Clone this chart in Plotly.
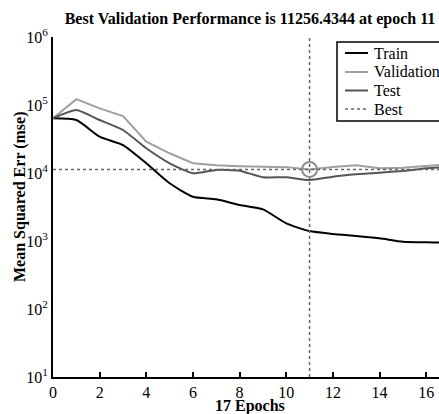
import plotly.graph_objects as go

epochs = list(range(0, 18))
train = [63700, 60100, 34200, 25700, 13900, 7060, 4470, 4100, 3390, 2920,
         1820, 1400, 1270, 1185, 1096, 977, 955, 955]
validation = [64000, 122000, 89300, 68900, 28800, 19500, 13900, 13000, 12600, 12400,
              12200, 11256.4344, 12300, 13000, 11700, 11900, 12800, 13500]
test = [64000, 84300, 60100, 42900, 23100, 13900, 9900, 11100, 10800, 8650,
        8650, 7880, 8830, 9550, 10100, 10720, 11700, 12400]
best_epoch = 11
best_perf = 11256.4344
legend_names = ["Train", "Validation", "Test", "Best"]
y_tickvals = [10, 100, 1000, 10000, 100000, 1000000]
y_ticktext = ["10<sup>1</sup>", "10<sup>2</sup>", "10<sup>3</sup>",
              "10<sup>4</sup>", "10<sup>5</sup>", "10<sup>6</sup>"]
x_tickvals = [0, 2, 4, 6, 8, 10, 12, 14, 16]

FONT = "Liberation Serif, Times New Roman, serif"
C_TRAIN, C_VAL, C_TEST, C_BEST = "black", "#a0a0a0", "#555555", "#666666"

fig = go.Figure()
fig.add_trace(go.Scatter(x=epochs, y=train, mode="lines", name="Train", showlegend=False,
                         line=dict(color=C_TRAIN, width=2, shape="spline", smoothing=0.6)))
fig.add_trace(go.Scatter(x=epochs, y=validation, mode="lines", name="Validation", showlegend=False,
                         line=dict(color=C_VAL, width=2)))
fig.add_trace(go.Scatter(x=epochs, y=test, mode="lines", name="Test", showlegend=False,
                         line=dict(color=C_TEST, width=2, shape="spline", smoothing=0.5)))
fig.add_trace(go.Scatter(x=[best_epoch, best_epoch], y=[10, 1e6], mode="lines", name="Best",
                         showlegend=False, line=dict(color=C_BEST, width=1.5, dash="dot")))
fig.add_trace(go.Scatter(x=[0, 17], y=[best_perf, best_perf], mode="lines", showlegend=False,
                         line=dict(color=C_BEST, width=1.5, dash="dot")))
fig.add_trace(go.Scatter(x=[best_epoch], y=[best_perf], mode="markers", showlegend=False,
                         marker=dict(symbol="circle-open", size=15, color="#8c8c8c",
                                     line=dict(width=2, color="#8c8c8c"))))

# plot area in page pixels: x 53..439, y 37..377
def px(x):
    return (x - 53) / 386.0

def py(y):
    return (377 - y) / 340.0

shapes = [dict(type="rect", xref="paper", yref="paper", x0=px(337), x1=px(470),
               y0=py(121), y1=py(42), line=dict(color="black", width=1.5),
               fillcolor="white", layer="above")]
annotations = []
styles = [(C_TRAIN, "solid", 2), (C_VAL, "solid", 2), (C_TEST, "solid", 2), (C_BEST, "dot", 1.5)]
rows = [53, 72, 90.5, 109]
for name, (col, dash, w), ry in zip(legend_names, styles, rows):
    shapes.append(dict(type="line", xref="paper", yref="paper", x0=px(345), x1=px(368),
                       y0=py(ry), y1=py(ry), line=dict(color=col, width=w, dash=dash),
                       layer="above"))
    annotations.append(dict(text=name, xref="paper", yref="paper", x=px(372), y=py(ry),
                            xanchor="left", yanchor="middle", showarrow=False,
                            font=dict(family=FONT, size=16, color="black")))

annotations += [
    dict(text="<b>17 Epochs</b>", xref="paper", yref="paper", x=px(250), y=0,
         xanchor="center", yanchor="middle", yshift=-29, showarrow=False,
         font=dict(family=FONT, size=16)),
    dict(text="<b>Mean Squared Err (mse)</b>", xref="paper", yref="paper",
         x=0, y=py(197), xanchor="center", yanchor="middle", xshift=-33,
         textangle=-90, showarrow=False, font=dict(family=FONT, size=16)),
]

fig.update_layout(
    width=439, height=414,
    margin=dict(l=53, r=0, t=37, b=37, autoexpand=False),
    paper_bgcolor="white", plot_bgcolor="white",
    font=dict(family=FONT, size=16, color="black"),
    title=dict(text="<b>Best Validation Performance is 11256.4344 at epoch 11</b>",
               x=250 / 439, xanchor="center", xref="container",
               y=1 - 18 / 414, yanchor="middle", yref="container",
               font=dict(family=FONT, size=16, color="black")),
    showlegend=False,
    hovermode=False,
    shapes=shapes,
    annotations=annotations,
)
fig.update_xaxes(range=[0, 16.55], tickvals=x_tickvals, ticks="inside", ticklen=5,
                 tickwidth=2, tickcolor="black", showline=True, linecolor="black",
                 linewidth=2, showgrid=False, zeroline=False, automargin=False,
                 tickfont=dict(family=FONT, size=16))
fig.update_yaxes(type="log", range=[1, 6], tickvals=y_tickvals, ticktext=y_ticktext,
                 ticks="", showline=True, linecolor="black", linewidth=2,
                 showgrid=False, zeroline=False, automargin=False,
                 tickfont=dict(family=FONT, size=16))

fig.write_html("out.html", config={"displayModeBar": False},
               post_script="document.body.style.margin='0';document.body.style.overflow='hidden';")
